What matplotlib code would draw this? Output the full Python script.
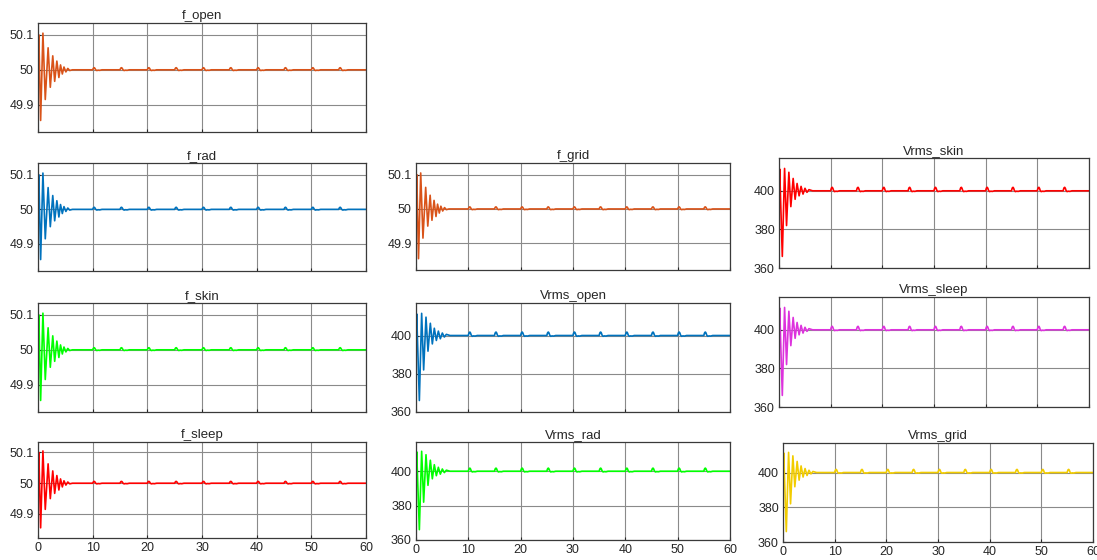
import numpy as np
import matplotlib
matplotlib.use("Agg")
import matplotlib.pyplot as plt

plt.rcParams['font.family'] = ['Liberation Sans', 'DejaVu Sans']

# ---- data ----
# frequency transient (time s, Hz)
t_f = [0.0, 0.05, 0.15, 0.48, 0.90, 1.33, 1.85, 2.25, 2.70, 3.05, 3.45, 3.82,
       4.12, 4.45, 4.75, 5.10, 5.45, 5.80, 6.30]
f_vals = [50.0, 49.975, 50.10, 49.855, 50.105, 49.915, 50.063, 49.95, 50.04,
          49.967, 50.025, 49.978, 50.014, 49.988, 50.008, 49.994, 50.004,
          49.998, 50.0]
# voltage transient (time s, V)
t_v = [0.0, 0.13, 0.64, 1.08, 1.46, 1.91, 2.29, 2.74, 3.12, 3.50, 3.89, 4.27,
       4.65, 5.03, 5.41, 5.80, 6.50]
v_vals = [398.0, 411.3, 366.0, 411.6, 382.0, 409.6, 391.8, 406.4, 395.6,
          403.8, 397.4, 402.3, 398.3, 401.3, 399.2, 400.6, 400.0]
# periodic small disturbances (rounded bumps every 5 s)
bump_times = [10, 15, 20, 25, 30, 35, 40, 45, 50, 55]
bump_dt = [0.0, 0.08, 0.18, 0.3, 0.42, 0.55, 0.75, 1.0, 1.3, 1.7]
f_bump = [0.0, 0.003, 0.0055, 0.006, 0.004, 0.0, -0.002, -0.001, -0.0015, 0.0]
v_bump = [0.0, 0.9, 1.6, 1.8, 1.3, 0.2, -0.4, -0.2, -0.3, 0.0]
f_base = 50.0
v_base = 400.0
t_end = 60.0

titles = ["f_open", "f_rad", "f_skin", "f_sleep", "f_grid",
          "Vrms_open", "Vrms_rad", "Vrms_skin", "Vrms_sleep", "Vrms_grid"]
kinds = ["f", "f", "f", "f", "f", "v", "v", "v", "v", "v"]
colors = ["#D95319", "#0072BD", "#00FF00", "#FF0000", "#D95319",
          "#0072BD", "#00FF00", "#FF0000", "#DD33DD", "#F2CC00"]
x_ticks = [0, 10, 20, 30, 40, 50, 60]
f_ticks = [49.9, 50.0, 50.1]
f_tick_labels = ["49.9", "50", "50.1"]
v_ticks = [360, 380, 400]
v_tick_labels = ["360", "380", "400"]


def build(kind):
    if kind == "f":
        t, y, base, bump = list(t_f), list(f_vals), f_base, f_bump
    else:
        t, y, base, bump = list(t_v), list(v_vals), v_base, v_bump
    for bt in bump_times:
        for dt, db in zip(bump_dt, bump):
            t.append(bt + dt)
            y.append(base + db)
    t.append(t_end)
    y.append(base)
    return np.array(t), np.array(y)


W, H = 1097, 560
# pixel boxes: left, top, right, bottom
boxes = [
    (38, 23, 366, 132),
    (38, 163, 366, 271),
    (38, 303, 366, 412),
    (38, 442, 366, 538),
    (416, 163, 730, 270),
    (416, 303, 730, 412),
    (416, 442, 730, 540),
    (779, 158, 1089, 268),
    (779, 297, 1089, 407),
    (783, 443, 1093, 542),
]
bottom_row = {"f_sleep", "Vrms_rad", "Vrms_grid"}

fig = plt.figure(figsize=(W / 100, H / 100), dpi=100)
fig.patch.set_facecolor("white")

for title, kind, col, (l, tp, r, b) in zip(titles, kinds, colors, boxes):
    ax = fig.add_axes([l / W, 1 - b / H, (r - l) / W, (b - tp) / H])
    t, y = build(kind)
    ax.plot(t, y, color=col, lw=1.2)
    ax.set_xlim(0, 60)
    ax.set_xticks(x_ticks)
    if kind == "f":
        ax.set_ylim(49.822, 50.134)
        ax.set_yticks(f_ticks)
        ax.set_yticklabels(f_tick_labels)
    else:
        ax.set_ylim(360, 417)
        ax.set_yticks(v_ticks)
        ax.set_yticklabels(v_tick_labels)
    if title in bottom_row:
        ax.set_xticklabels([str(v) for v in x_ticks])
    else:
        ax.set_xticklabels([])
    ax.grid(True, color="#8a8a8a", lw=0.8)
    ax.set_axisbelow(True)
    for s in ax.spines.values():
        s.set_color("#3a3a3a")
        s.set_linewidth(0.9)
    ax.tick_params(direction="in", length=2, labelsize=9, colors="#262626",
                   pad=3)
    ax.set_title(title, fontsize=9.5, color="#262626", pad=3)

fig.savefig("out.png", dpi=100, facecolor="white")
